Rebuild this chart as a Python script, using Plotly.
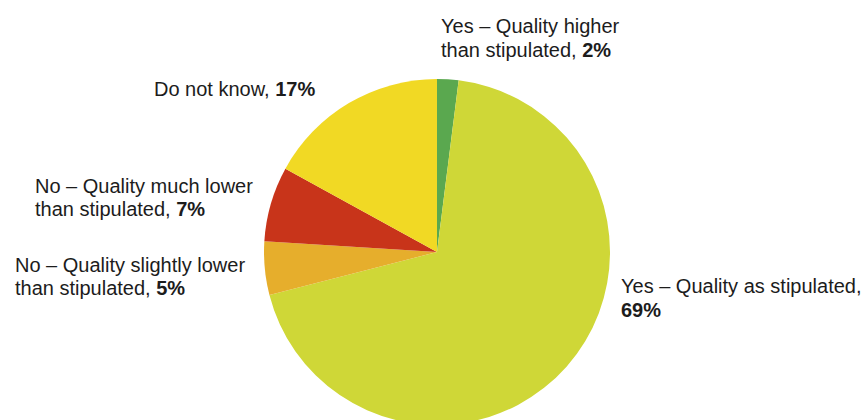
import plotly.graph_objects as go

labels = ["Yes – Quality higher than stipulated", "Yes – Quality as stipulated",
          "No – Quality slightly lower than stipulated", "No – Quality much lower than stipulated",
          "Do not know"]
values = [2, 69, 5, 7, 17]
colors = ["#5aa84f", "#cfd737", "#e6ae2c", "#c8341a", "#f1d924"]

W, H = 865, 440

fig = go.Figure(go.Pie(
    labels=labels, values=values, sort=False, direction="clockwise", rotation=0,
    marker=dict(colors=colors, line=dict(width=0)),
    textinfo="none", hoverinfo="label+percent", showlegend=False,
    domain=dict(x=[264 / W, 610 / W], y=[(H - 425) / H, (H - 79) / H]),
))

def px_y(y):
    return (H - y) / H

font = dict(family="Liberation Sans, Arial, sans-serif", size=20, color="#1c1c1c")
lines = [
    (439, 26.3, "Yes – Quality higher"),
    (439, 49.7, f"than stipulated, <b>{values[0]}%</b>"),
    (152, 89.3, f"Do not know, <b>{values[4]}%</b>"),
    (33, 185.7, "No – Quality much lower"),
    (33, 209.0, f"than stipulated, <b>{values[3]}%</b>"),
    (13, 265.0, "No – Quality slightly lower"),
    (13, 288.3, f"than stipulated, <b>{values[2]}%</b>"),
    (619, 286.3, "Yes – Quality as stipulated,"),
    (619, 309.7, f"<b>{values[1]}%</b>"),
]
for x, y, t in lines:
    fig.add_annotation(x=x / W, y=px_y(y), xref="paper", yref="paper", text=t,
                       showarrow=False, xanchor="left", yanchor="middle", align="left",
                       font=font)

fig.update_layout(width=W, height=H, margin=dict(l=0, r=0, t=0, b=0),
                  paper_bgcolor="white", plot_bgcolor="white")

fig.write_html("out.html", config={"displayModeBar": False},
               post_script="document.body.style.margin='0';document.body.style.overflow='hidden';document.documentElement.style.overflow='hidden';")
